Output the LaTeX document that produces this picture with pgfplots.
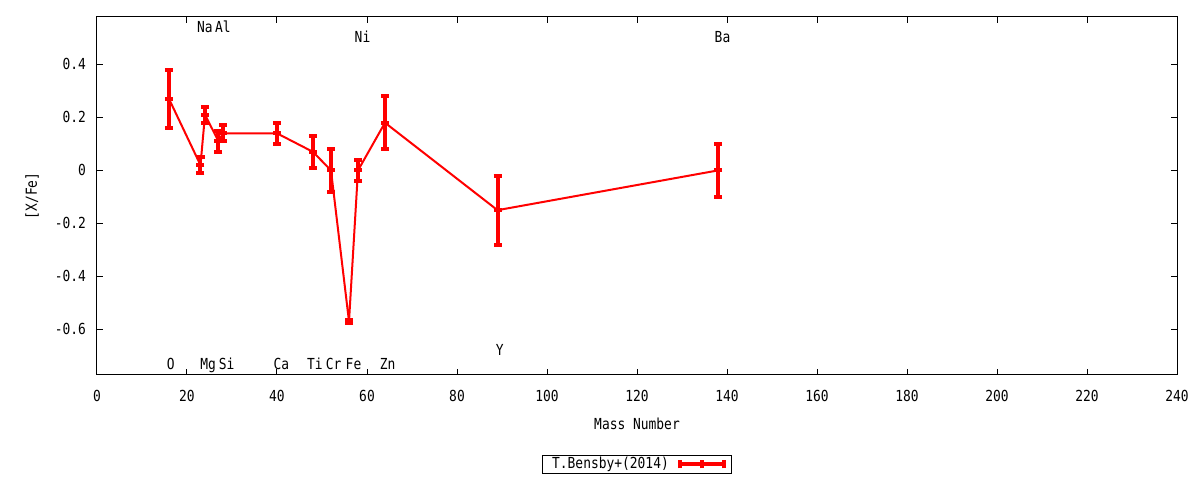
\documentclass[border=0pt]{standalone}
\usepackage{pgfplots}
\pgfplotsset{compat=1.18}
\usepackage{pgfplotstable}
\usepackage{fontspec}
\setmainfont{DejaVu Sans Mono}[FakeStretch=0.85]

\pgfplotstableread{
x    y      e
16   0.27   0.11
23   0.02   0.03
24   0.21   0.03
27   0.11   0.04
28   0.14   0.03
40   0.14   0.04
48   0.07   0.06
52   0.00   0.08
56  -0.57   0.005
58   0.00   0.04
64   0.18   0.10
89  -0.15   0.13
138  0.00   0.10
}\bensby

\pgfplotstableread{
x     y       label
16.4  -0.726  O
24.7  -0.726  Mg
28.8  -0.726  Si
41    -0.726  Ca
48.4  -0.726  Ti
52.6  -0.726  Cr
57    -0.726  Fe
64.6  -0.726  Zn
89.5  -0.673  Y
24     0.545  Na
28     0.545  Al
59     0.507  Ni
139    0.507  Ba
}\elements

\begin{document}
\begin{tikzpicture}[font=\fontsize{7.6}{9}\selectfont]
  \begin{axis}[
    name=ax,
    scale only axis,
    width=540pt, height=179pt,
    xmin=0, xmax=240,
    ymin=-0.772, ymax=0.579,
    xtick={0,20,...,240},
    ytick={-0.6,-0.4,-0.2,0,0.2,0.4},
    /pgf/number format/assume math mode=true,
    /pgf/number format/fixed,
    tick align=inside,
    major tick length=3pt,
    axis line style={line width=0.5pt},
    every tick/.style={black, line width=0.5pt},
    xticklabel style={yshift=-4pt},
    yticklabel style={xshift=-2pt},
    xlabel={Mass Number},
    ylabel={[X/Fe]},
    xlabel style={at={(axis description cs:0.5,-0.1369)}, anchor=center},
    ylabel style={at={(axis description cs:-0.0602,0.5)}, anchor=center},
    legend plot pos=right,
    legend style={at={(0.5,-0.25)}, anchor=center,
      draw=black, line width=0.5pt, inner xsep=3pt, inner ysep=0pt,
      nodes={inner ysep=1pt}},
    legend image code/.code={
      \path (0pt,0pt);
      \draw[red, line width=2pt] (3pt,0pt) -- (25pt,0pt);
      \draw[red, line width=2pt] (3pt,-2pt) -- (3pt,2pt)
        (14pt,-2pt) -- (14pt,2pt) (25pt,-2pt) -- (25pt,2pt);
    },
  ]
    \addplot[red, line width=1pt, mark=-, mark size=2pt,
      mark options={solid, line width=2pt},
      error bars/.cd, y dir=both, y explicit,
      error bar style={line width=2pt},
      error mark options={mark size=2pt, line width=2pt, rotate=90}]
      table[x=x, y=y, y error=e] {\bensby};
    \addlegendentry{T.Bensby+(2014)}

    \addplot[forget plot, draw=none, mark=none, nodes near coords,
      point meta=explicit symbolic,
      nodes near coords style={anchor=center, black,
        text height=1.5ex, text depth=0.25ex}]
      table[x=x, y=y, meta=label] {\elements};
  \end{axis}
  \pgfresetboundingbox
  \path ([xshift=-48.5pt, yshift=-52.5pt]ax.south west)
    rectangle ([xshift=11.5pt, yshift=8.5pt]ax.north east);
\end{tikzpicture}
\end{document}
